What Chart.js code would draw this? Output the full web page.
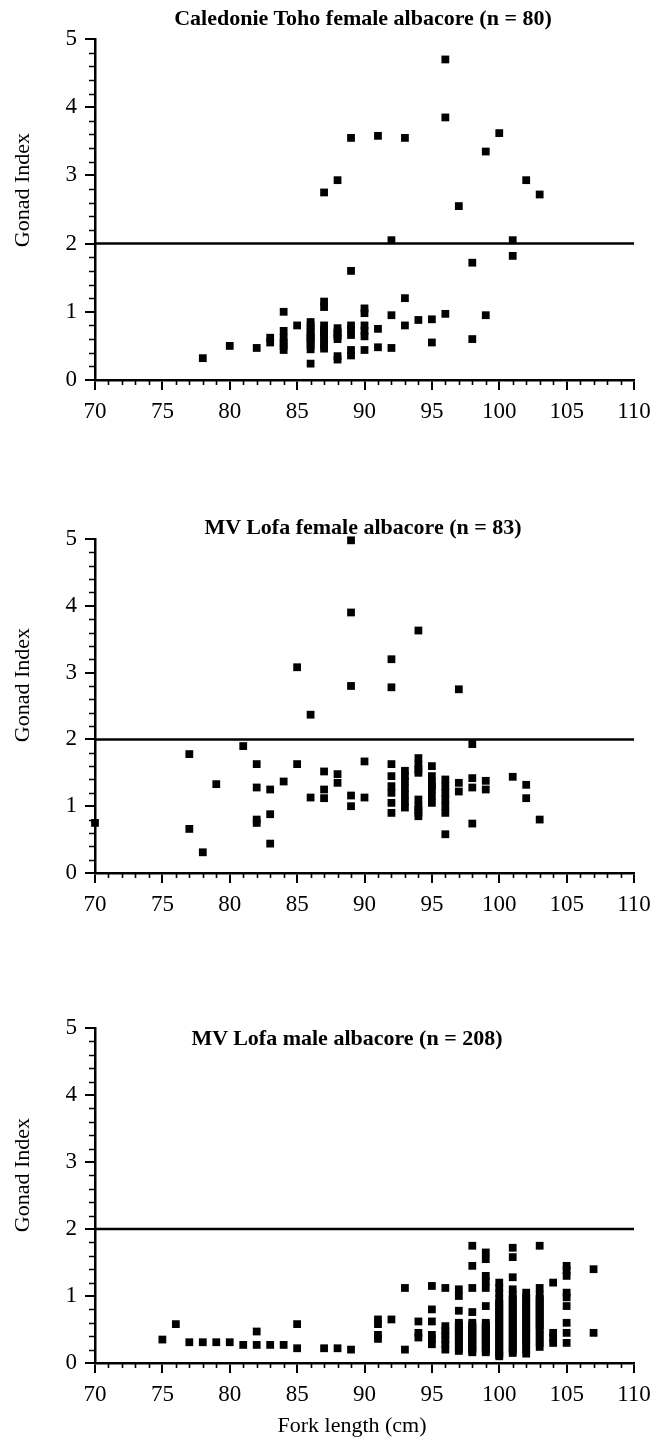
<!DOCTYPE html>
<html>
<head>
<meta charset="utf-8">
<script src="https://cdn.jsdelivr.net/npm/chart.js@4.4.1/dist/chart.umd.min.js"></script>
<style>
  html, body { margin: 0; padding: 0; background: #fff; }
  body { width: 659px; height: 1443px; position: relative; overflow: hidden; font-family: "Liberation Serif", "Times New Roman", serif; color: #000; }
  .cv { position: absolute; left: 0; }
  .title { position: absolute; width: 600px; text-align: center; font-weight: bold; font-size: 22px; white-space: nowrap; transform: translateY(-50%); }
  .ylab { position: absolute; font-size: 22px; white-space: nowrap; transform: translate(-50%, -50%) rotate(-90deg); }
  .xlab { position: absolute; font-size: 22px; white-space: nowrap; transform: translate(-50%, -50%); }
</style>
</head>
<body>
<canvas id="c1" class="cv" width="659" height="430" style="top:0px"></canvas>
<canvas id="c2" class="cv" width="659" height="430" style="top:500px"></canvas>
<canvas id="c3" class="cv" width="659" height="453" style="top:990px"></canvas>

<div class="title" style="left:63px; top:18px">Caledonie Toho female albacore (n = 80)</div>
<div class="title" style="left:63px; top:527px">MV Lofa female albacore (n = 83)</div>
<div class="title" style="left:47px; top:1038px">MV Lofa male albacore (n = 208)</div>

<div class="ylab" style="left:22px; top:190px">Gonad Index</div>
<div class="ylab" style="left:22px; top:685px">Gonad Index</div>
<div class="ylab" style="left:22px; top:1175px">Gonad Index</div>
<div class="xlab" style="left:352px; top:1425px">Fork length (cm)</div>

<script>
// ---- Axis setup ----
const xMin = 70, xMax = 110, xStep = 5;
const yMin = 0, yMax = 5, yStep = 1;
const threshold = 2;  // horizontal reference line at Gonad Index = 2

// ---- Caledonie Toho female albacore (n = 80) ----
const tohoLength = [
  87, 88, 89, 91, 93, 96, 96, 100, 99, 102, 103, 97, 92, 101, 101, 98, 89,
  78, 80, 82, 83, 83,
  84, 84, 84, 84, 84, 84,
  85,
  86, 86, 86, 86, 86, 86, 86, 86, 86, 86, 86,
  87, 87, 87, 87, 87, 87, 87, 87, 87, 87,
  88, 88, 88, 88, 88, 88, 88,
  89, 89, 89, 89, 89,
  90, 90, 90, 90, 90, 90,
  91, 91, 92, 92, 93, 93, 94, 95, 95, 96, 98, 99
];
const tohoIndex = [
  2.75, 2.93, 3.55, 3.58, 3.55, 4.70, 3.85, 3.62, 3.35, 2.93, 2.72, 2.55, 2.05, 2.05, 1.82, 1.72, 1.60,
  0.32, 0.50, 0.47, 0.55, 0.62,
  1.00, 0.72, 0.62, 0.55, 0.50, 0.44,
  0.80,
  0.85, 0.80, 0.75, 0.70, 0.65, 0.62, 0.60, 0.55, 0.50, 0.45, 0.24,
  1.15, 1.07, 0.80, 0.74, 0.70, 0.68, 0.62, 0.56, 0.50, 0.46,
  0.76, 0.70, 0.68, 0.64, 0.60, 0.35, 0.30,
  0.80, 0.74, 0.66, 0.44, 0.36,
  1.05, 0.98, 0.80, 0.72, 0.64, 0.44,
  0.75, 0.48, 0.95, 0.47, 1.20, 0.80, 0.88, 0.89, 0.55, 0.97, 0.60, 0.95
];

// ---- MV Lofa female albacore (n = 83) ----
const lofaFLength = [
  89, 89, 89, 85, 86, 92, 92, 94, 97, 98,
  70, 77, 77, 78, 79, 81,
  82, 82, 82, 82, 83, 83, 83, 84, 85, 86,
  87, 87, 87, 88, 88, 89, 89, 90, 90,
  92, 92, 92, 92, 92, 92,
  93, 93, 93, 93, 93, 93, 93,
  94, 94, 94, 94, 94, 94, 94, 94, 94,
  95, 95, 95, 95, 95, 95, 95,
  96, 96, 96, 96, 96, 96, 96,
  97, 97, 98, 98, 98, 99, 99, 101, 102, 102, 103
];
const lofaFIndex = [
  4.98, 3.90, 2.80, 3.08, 2.37, 3.20, 2.78, 3.63, 2.75, 1.93,
  0.75, 1.78, 0.66, 0.31, 1.33, 1.90,
  1.63, 1.28, 0.80, 0.75, 1.25, 0.88, 0.44, 1.37, 1.63, 1.13,
  1.52, 1.25, 1.12, 1.48, 1.35, 1.16, 1.00, 1.67, 1.13,
  1.63, 1.45, 1.30, 1.20, 1.05, 0.90,
  1.53, 1.45, 1.37, 1.27, 1.17, 1.07, 0.98,
  1.72, 1.62, 1.55, 1.50, 1.10, 1.00, 0.95, 0.90, 0.85,
  1.60, 1.45, 1.35, 1.30, 1.25, 1.15, 1.05,
  1.40, 1.30, 1.20, 1.10, 1.00, 0.90, 0.58,
  1.35, 1.22, 1.42, 1.28, 0.74, 1.38, 1.25, 1.44, 1.32, 1.12, 0.80
];

// ---- MV Lofa male albacore (n = 208) ----
const lofaMLength = [
  75, 76, 77, 78, 79, 80, 81, 82, 82, 83, 84, 85, 85, 87, 88, 89,
  91, 91, 91, 91, 92, 93, 93, 94, 94, 94,
  95, 95, 95, 95, 95, 95,
  96, 96, 96, 96, 96, 96, 96,
  97, 97, 97, 97, 97, 97, 97, 97, 97, 97, 97, 97, 97, 97, 97, 97,
  98, 98, 98, 98, 98, 98, 98, 98, 98, 98, 98, 98, 98, 98, 98, 98, 98, 98, 98, 98,
  99, 99, 99, 99, 99, 99, 99, 99, 99, 99, 99, 99, 99, 99, 99, 99, 99, 99, 99, 99, 99, 99,
  100, 100, 100, 100, 100, 100, 100, 100, 100, 100, 100, 100, 100, 100, 100, 100, 100, 100, 100, 100, 100, 100, 100, 100, 100, 100,
  101, 101, 101, 101, 101, 101, 101, 101, 101, 101, 101, 101, 101, 101, 101, 101, 101, 101, 101, 101, 101, 101, 101, 101, 101, 101, 101,
  102, 102, 102, 102, 102, 102, 102, 102, 102, 102, 102, 102, 102, 102, 102, 102, 102, 102, 102, 102, 102, 102,
  103, 103, 103, 103, 103, 103, 103, 103, 103, 103, 103, 103, 103, 103, 103, 103, 103, 103, 103, 103,
  104, 104, 104, 104,
  105, 105, 105, 105, 105, 105, 105, 105, 105,
  107, 107
];
const lofaMIndex = [
  0.35, 0.58, 0.31, 0.31, 0.31, 0.31, 0.27, 0.47, 0.27, 0.27, 0.27, 0.58, 0.22, 0.22, 0.22, 0.20,
  0.65, 0.58, 0.42, 0.36, 0.65, 1.12, 0.20, 0.62, 0.45, 0.38,
  1.15, 0.80, 0.62, 0.42, 0.36, 0.28,
  1.12, 0.55, 0.48, 0.42, 0.35, 0.28, 0.20,
  1.10, 1.00, 0.78, 0.60, 0.57, 0.54, 0.51, 0.48, 0.45, 0.42, 0.36, 0.33, 0.30, 0.24, 0.21, 0.18,
  1.75, 1.45, 1.12, 0.76, 0.60, 0.57, 0.54, 0.51, 0.48, 0.45, 0.42, 0.39, 0.36, 0.33, 0.30, 0.27, 0.24, 0.21, 0.18, 0.16,
  1.65, 1.55, 1.30, 1.22, 1.12, 0.85, 0.60, 0.57, 0.54, 0.51, 0.48, 0.45, 0.42, 0.39, 0.36, 0.33, 0.30, 0.27, 0.24, 0.21, 0.18, 0.16,
  1.20, 1.12, 1.04, 0.96, 0.90, 0.87, 0.84, 0.78, 0.75, 0.72, 0.66, 0.63, 0.60, 0.54, 0.51, 0.48, 0.42, 0.39, 0.36, 0.30, 0.27, 0.24, 0.18, 0.15, 0.12, 0.10,
  1.72, 1.58, 1.28, 1.10, 1.02, 0.96, 0.93, 0.90, 0.84, 0.81, 0.78, 0.72, 0.69, 0.66, 0.60, 0.57, 0.54, 0.48, 0.45, 0.42, 0.36, 0.33, 0.30, 0.24, 0.21, 0.18, 0.15,
  1.05, 0.98, 0.95, 0.92, 0.86, 0.83, 0.80, 0.74, 0.71, 0.68, 0.62, 0.59, 0.56, 0.50, 0.47, 0.44, 0.38, 0.35, 0.32, 0.26, 0.20, 0.14,
  1.75, 1.12, 1.02, 0.96, 0.93, 0.90, 0.84, 0.81, 0.78, 0.72, 0.69, 0.66, 0.60, 0.57, 0.54, 0.48, 0.42, 0.36, 0.30, 0.24,
  1.20, 0.45, 0.38, 0.30,
  1.45, 1.38, 1.30, 1.05, 0.98, 0.85, 0.60, 0.45, 0.30,
  1.40, 0.45
];

// ---- Styling ----
const FONT = '"Liberation Serif", "Times New Roman", serif';
Chart.defaults.font.family = FONT;
Chart.defaults.color = '#000';

const minorTicks = {
  id: 'minorTicks',
  afterDraw(chart) {
    const { ctx, scales: { x, y }, chartArea } = chart;
    ctx.save();
    ctx.strokeStyle = '#000';
    ctx.lineWidth = 1.6;
    ctx.beginPath();
    for (let v = yMin; v <= yMax + 1e-9; v += 0.2) {
      const r = Math.round(v * 10) / 10;
      if (Math.abs(r - Math.round(r)) < 1e-6) continue;
      const py = Math.round(y.getPixelForValue(r)) + 0.5;
      ctx.moveTo(chartArea.left, py);
      ctx.lineTo(chartArea.left - 6, py);
    }
    for (let v = xMin; v <= xMax; v += 1) {
      if (v % xStep === 0) continue;
      const px = Math.round(x.getPixelForValue(v)) + 0.5;
      ctx.moveTo(px, chartArea.bottom);
      ctx.lineTo(px, chartArea.bottom + 5);
    }
    ctx.stroke();
    ctx.restore();
  }
};

function makeChart(id, xs, ys, padTop, xAxisHeight) {
  const pts = xs.map((xv, i) => ({ x: xv, y: ys[i] }));
  return new Chart(document.getElementById(id), {
    type: 'scatter',
    data: {
      datasets: [
        {
          data: pts,
          pointStyle: 'rect',
          pointRadius: 5.5,
          pointHoverRadius: 5.5,
          backgroundColor: '#000',
          borderColor: '#000',
          borderWidth: 0,
          clip: false
        },
        {
          data: [{ x: xMin, y: threshold }, { x: xMax, y: threshold }],
          showLine: true,
          borderColor: '#000',
          borderWidth: 2.5,
          pointRadius: 0,
          pointHoverRadius: 0,
          clip: false
        }
      ]
    },
    options: {
      responsive: false,
      animation: false,
      devicePixelRatio: 1,
      layout: { padding: { left: 0, right: 25, top: padTop, bottom: 0 } },
      plugins: { legend: { display: false }, tooltip: { enabled: false }, title: { display: false } },
      scales: {
        x: {
          type: 'linear', min: xMin, max: xMax,
          ticks: { stepSize: xStep, font: { size: 23 }, color: '#000', padding: 8, maxRotation: 0 },
          grid: { drawOnChartArea: false, drawTicks: true, tickLength: 10, color: '#000', lineWidth: 2 },
          border: { display: true, color: '#000', width: 2.5 },
          afterFit(scale) { scale.height = xAxisHeight; }
        },
        y: {
          type: 'linear', min: yMin, max: yMax,
          ticks: { stepSize: yStep, font: { size: 23 }, color: '#000', padding: 8 },
          grid: { drawOnChartArea: false, drawTicks: true, tickLength: 10, color: '#000', lineWidth: 2 },
          border: { display: true, color: '#000', width: 2.5 },
          afterFit(scale) { scale.width = 95; }
        }
      }
    },
    plugins: [minorTicks]
  });
}

makeChart('c1', tohoLength, tohoIndex, 39, 50);
makeChart('c2', lofaFLength, lofaFIndex, 39, 57);
makeChart('c3', lofaMLength, lofaMIndex, 38, 80);
</script>
</body>
</html>
